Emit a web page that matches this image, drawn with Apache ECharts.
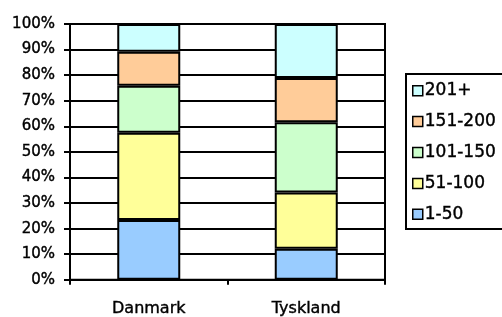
<!DOCTYPE html>
<html>
<head>
<meta charset="utf-8">
<script src="https://cdn.jsdelivr.net/npm/echarts@6/dist/echarts.min.js"></script>
<style>
  html, body { margin: 0; padding: 0; background: #fff; }
  #chart { width: 502px; height: 317px; }
</style>
</head>
<body>
<div id="chart"></div>
<script>
    // andel i procent pr. land
    const categories = ['Danmark', 'Tyskland'];
    const bands = ['1-50', '51-100', '101-150', '151-200', '201+'];
    const colors = ['#99ccff', '#ffff99', '#ccffcc', '#ffcc99', '#ccffff'];
    const values = [
        [23.4, 12.1],   // 1-50
        [34.1, 22.0],   // 51-100
        [18.4, 27.5],   // 101-150
        [13.3, 17.3],   // 151-200
        [10.8, 21.1]    // 201+
    ];
    const yTicks = [0, 10, 20, 30, 40, 50, 60, 70, 80, 90, 100];

    const chart = echarts.init(document.getElementById('chart'));

    let series = [];
    for (let i = 0; i < bands.length; ++i) {
        series.push({
            name: bands[i],
            type: 'bar',
            stack: 'total',
            barWidth: '40%',
            data: values[i],
            itemStyle: {color: colors[i], borderColor: '#000', borderWidth: 2}
        });
    }

    const font = 'DejaVu Sans';
    // tekst lidt kraftigere, som i originalen
    const txt = {fontFamily: font, color: '#000', textBorderColor: '#000', textBorderWidth: 0.4};
    const options = {
        animation: false,
        grid: {
            left: 70, right: 117, top: 24, bottom: 36,
            show: true, borderColor: '#000', borderWidth: 2
        },
        legend: {
            data: bands.slice().reverse(),
            orient: 'vertical',
            left: 406,
            top: 74,
            itemWidth: 10,
            itemHeight: 10,
            itemGap: 13.5,
            padding: [8, 20, 6, 6],
            borderColor: '#000',
            borderWidth: 2,
            icon: 'rect',
            itemStyle: {borderColor: '#000', borderWidth: 1.5},
            textStyle: Object.assign({fontSize: 17, padding: [0, 0, 0, -3]}, txt)
        },
        xAxis: {
            type: 'category',
            data: categories,
            axisLine: {lineStyle: {color: '#000', width: 2}},
            axisTick: {show: true, length: 5, lineStyle: {color: '#000', width: 2}},
            axisLabel: Object.assign({fontSize: 16, margin: 21}, txt)
        },
        yAxis: {
            type: 'value',
            min: 0,
            max: 100,
            interval: 10,
            axisLine: {show: true, lineStyle: {color: '#000', width: 2}},
            axisTick: {show: true, inside: false, length: 6, lineStyle: {color: '#000', width: 2}},
            axisLabel: Object.assign({
                fontSize: 15, margin: 15,
                formatter: v => yTicks.includes(v) ? v + '%' : ''
            }, txt),
            splitLine: {lineStyle: {color: '#000', width: 2}}
        },
        series: series
    };
    chart.setOption(options, true);
</script>
</body>
</html>
